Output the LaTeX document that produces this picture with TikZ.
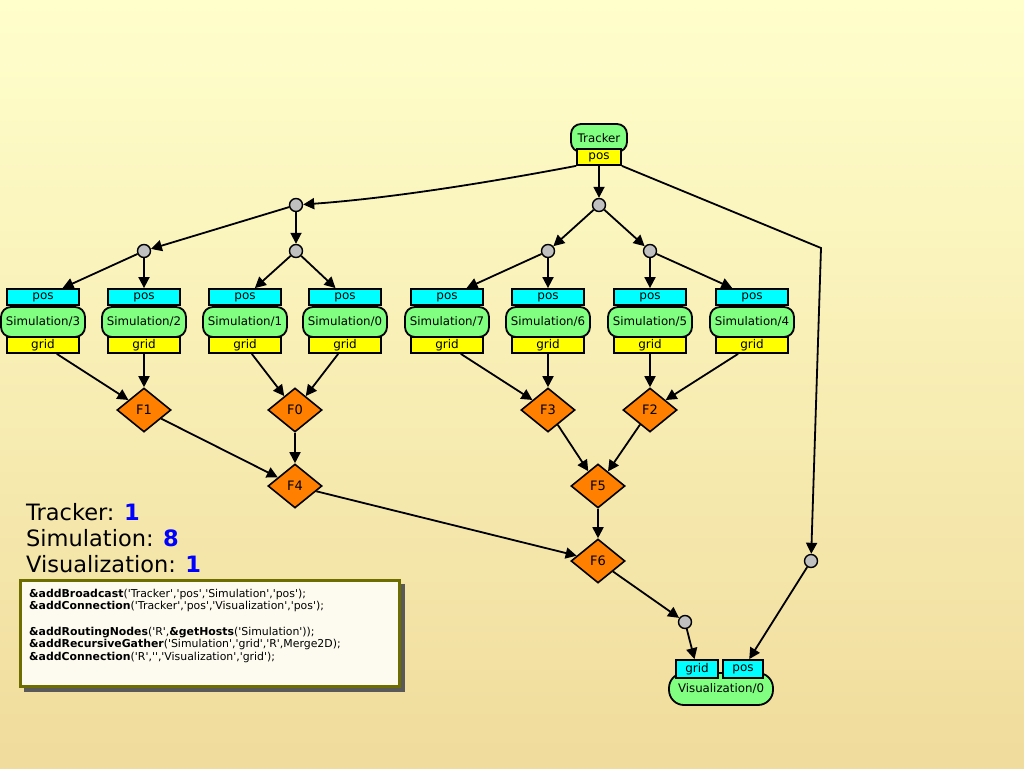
\documentclass[tikz,border=0pt]{standalone}
\usepackage{fontspec}
\setmainfont{DejaVu Sans}
\usetikzlibrary{arrows.meta,shapes.geometric}
\definecolor{bgtop}{HTML}{FFFFCC}
\definecolor{bgbot}{HTML}{F0DC9C}
\definecolor{simgreen}{HTML}{80FF80}
\definecolor{portcyan}{HTML}{00FFFF}
\definecolor{portyel}{HTML}{FFFF00}
\definecolor{forange}{HTML}{FF8000}
\definecolor{rgray}{HTML}{C0C0C0}
\definecolor{boxborder}{HTML}{6E6E00}
\definecolor{boxfill}{HTML}{FDFBEF}
\definecolor{numblue}{HTML}{0000FF}
\newcommand\q{\textquotesingle}
\begin{document}
\begin{tikzpicture}[x=1pt,y=-1pt,
  greenbox/.style={draw, fill=simgreen, line width=1.8pt, rounded corners=10pt, inner sep=0pt, font=\fontsize{11.8}{11.8}\selectfont},
  cyanport/.style={draw, fill=portcyan, line width=1.8pt, minimum width=72pt, minimum height=16pt, inner sep=0pt, font=\fontsize{12}{12}\selectfont},
  yelport/.style={draw, fill=portyel, line width=1.8pt, minimum width=72pt, minimum height=16pt, inner sep=0pt, font=\fontsize{12}{12}\selectfont},
  fnode/.style={diamond, draw, fill=forange, line width=1.6pt, minimum width=54pt, minimum height=44pt, inner sep=0pt, font=\fontsize{13}{13}\selectfont},
  router/.style={circle, draw, fill=rgray, line width=1.4pt, minimum size=13pt, inner sep=0pt},
  edge/.style={-{Triangle[length=11pt,width=11pt]}, line width=1.8pt},
  bigtxt/.style={anchor=base west, inner sep=0pt, font=\fontsize{22.5}{22.5}\selectfont},
  codetxt/.style={anchor=base west, inner sep=0pt, font=\fontsize{10.9}{10.9}\selectfont}
]
\useasboundingbox (0,0) rectangle (1024,768);
\shade[top color=bgtop, bottom color=bgbot] (0,0) rectangle (1024,768);

% Tracker
\node[greenbox, minimum width=56pt, minimum height=28pt] (tr) at (599,138) {Tracker};
\node[yelport, minimum width=44pt] (tp) at (599,157) {pos};

% Simulations
\foreach \n/\x in {3/43, 2/144, 1/245, 0/345, 7/447, 6/548, 5/650, 4/752} {
  \node[greenbox, minimum width=84pt, minimum height=30pt] (s\n) at (\x,322) {Simulation/\n};
  \node[cyanport] (s\n p) at (\x,297) {pos};
  \node[yelport] (s\n g) at (\x,345) {grid};
}

% Routers
\node[router] (ra) at (296,205) {};
\node[router] (rb) at (599,205) {};
\node[router] (r3) at (144,251) {};
\node[router] (r0) at (296,251) {};
\node[router] (r7) at (548,251) {};
\node[router] (r5) at (650,251) {};
\node[router] (rv) at (811,561) {};
\node[router] (rg) at (685,622) {};
\coordinate (kink) at (821,248);

% Merge nodes
\node[fnode] (f1) at (144,410) {F1};
\node[fnode] (f0) at (295,410) {F0};
\node[fnode] (f3) at (548,410) {F3};
\node[fnode] (f2) at (650,410) {F2};
\node[fnode] (f4) at (295,486) {F4};
\node[fnode] (f5) at (598,486) {F5};
\node[fnode] (f6) at (598,561) {F6};

% Visualization
\node[greenbox, rounded corners=15pt, minimum width=104pt, minimum height=32pt] (vis) at (721,689) {\raisebox{-3pt}{Visualization/0}};
\node[cyanport, minimum width=42pt, minimum height=18pt] (vg) at (697,669) {grid};
\node[cyanport, minimum width=40pt, minimum height=18pt] (vp) at (743,669) {pos};

% Broadcast edges
\draw[edge] (tp) -- (rb);
\draw[edge] (tp.south west) .. controls (470,186) and (380,199) .. (ra);
\draw[edge] (tp.south east) -- (kink) -- (rv);
\draw[edge] (ra) -- (r3);
\draw[edge] (ra) -- (r0);
\draw[edge] (rb) -- (r7);
\draw[edge] (rb) -- (r5);
\draw[edge] (r3) -- (s3p);
\draw[edge] (r3) -- (s2p);
\draw[edge] (r0) -- (s1p);
\draw[edge] (r0) -- (s0p);
\draw[edge] (r7) -- (s7p);
\draw[edge] (r7) -- (s6p);
\draw[edge] (r5) -- (s5p);
\draw[edge] (r5) -- (s4p);

% Gather edges
\draw[edge] (s3g) -- (f1);
\draw[edge] (s2g) -- (f1);
\draw[edge] (s1g) -- (f0);
\draw[edge] (s0g) -- (f0);
\draw[edge] (s7g) -- (f3);
\draw[edge] (s6g) -- (f3);
\draw[edge] (s5g) -- (f2);
\draw[edge] (s4g) -- (f2);
\draw[edge] (f1) -- (f4);
\draw[edge] (f0) -- (f4);
\draw[edge] (f3) -- (f5);
\draw[edge] (f2) -- (f5);
\draw[edge] (f4) -- (f6);
\draw[edge] (f5) -- (f6);
\draw[edge] (f6) -- (rg);
\draw[edge] (rg) -- (vg);
\draw[edge] (rv) -- (vp);

% Counts
\node[bigtxt] (t1) at (26,520) {Tracker: \textcolor{numblue}{\textbf{1}}};
\node[bigtxt] (t2) at (26,546) {Simulation: \textcolor{numblue}{\textbf{8}}};
\node[bigtxt] (t3) at (26,572) {Visualization: \textcolor{numblue}{\textbf{1}}};

% Code box
\fill[black!65] (24,584) rectangle (405,692);
\node[draw=boxborder, fill=boxfill, line width=3.5pt, minimum width=379pt, minimum height=106pt, inner sep=0pt, anchor=north west] (code) at (18.5,578.5) {};
\node[codetxt] (c1) at (29,597) {\textbf{\&addBroadcast}(\q Tracker\q,\q pos\q,\q Simulation\q,\q pos\q);};
\node[codetxt] (c2) at (29,609.5) {\textbf{\&addConnection}(\q Tracker\q,\q pos\q,\q Visualization\q,\q pos\q);};
\node[codetxt] (c3) at (29,635) {\textbf{\&addRoutingNodes}(\q R\q,\textbf{\&getHosts}(\q Simulation\q));};
\node[codetxt] (c4) at (29,647.5) {\textbf{\&addRecursiveGather}(\q Simulation\q,\q grid\q,\q R\q,Merge2D);};
\node[codetxt] (c5) at (29,660) {\textbf{\&addConnection}(\q R\q,\q\q,\q Visualization\q,\q grid\q);};
\end{tikzpicture}
\end{document}
